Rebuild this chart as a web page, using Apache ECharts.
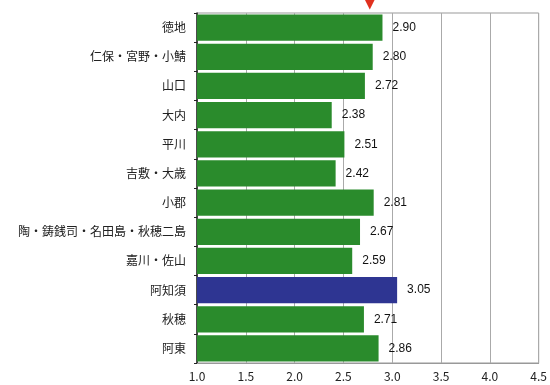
<!DOCTYPE html>
<html>
<head>
<meta charset="utf-8">
<script src="https://cdn.jsdelivr.net/npm/echarts@6/dist/echarts.min.js"></script>
<style>
  html, body { margin: 0; padding: 0; background: #fff; }
  #chart { width: 550px; height: 385px; }
</style>
</head>
<body>
<div id="chart"></div>
<script>
const categories = ['徳地', '仁保・宮野・小鯖', '山口', '大内', '平川', '吉敷・大歳', '小郡',
  '陶・鋳銭司・名田島・秋穂二島', '嘉川・佐山', '阿知須', '秋穂', '阿東'];
const values = [2.90, 2.80, 2.72, 2.38, 2.51, 2.42, 2.81, 2.67, 2.59, 3.05, 2.71, 2.86];
const highlight = '阿知須';
const marker = 2.77;
const xTicks = [1.0, 1.5, 2.0, 2.5, 3.0, 3.5, 4.0, 4.5];

const chart = echarts.init(document.getElementById('chart'));
const font = '"Noto Sans CJK JP", sans-serif';

const option = {
  animation: false,
  grid: { left: 197, right: 10, top: 13, bottom: 22, show: true, borderColor: '#999', borderWidth: 1 },
  xAxis: {
    type: 'value',
    min: xTicks[0],
    max: xTicks[xTicks.length - 1],
    interval: 0.5,
    axisLine: { show: true, lineStyle: { color: '#999' } },
    axisTick: { show: false },
    axisLabel: {
      color: '#222', fontSize: 12, fontFamily: font, margin: 7,
      formatter: v => v.toFixed(1)
    },
    splitLine: { show: true, lineStyle: { color: '#aaa', width: 1 } }
  },
  yAxis: {
    type: 'category',
    inverse: true,
    data: categories,
    axisLine: { show: true, lineStyle: { color: '#222', width: 1.5 } },
    axisTick: { show: true, length: 3, lineStyle: { color: '#222' } },
    axisLabel: { color: '#222', fontSize: 12, fontFamily: font, margin: 11 },
    splitLine: { show: false }
  },
  series: [{
    type: 'bar',
    barCategoryGap: '10%',
    data: values.map((v, i) => ({
      value: v,
      itemStyle: { color: categories[i] === highlight ? '#2e3592' : '#2a8b2c' }
    })),
    label: {
      show: true,
      position: 'right',
      distance: 10,
      color: '#111',
      fontSize: 12,
      fontFamily: '"Liberation Sans", Arial, sans-serif',
      formatter: p => p.value.toFixed(2)
    },
    markPoint: {
      silent: true,
      symbol: 'triangle',
      symbolRotate: 180,
      symbolSize: [10, 10],
      symbolOffset: [0, -23],
      itemStyle: { color: '#e0301e' },
      label: { show: false },
      data: [{ coord: [marker, 0] }]
    }
  }]
};

chart.setOption(option);
</script>
</body>
</html>
